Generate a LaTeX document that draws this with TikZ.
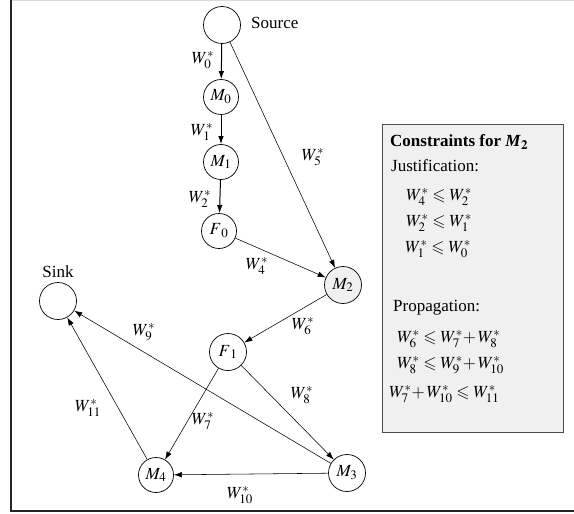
\documentclass[tikz,border=0pt]{standalone}
\usepackage{amssymb}
\usepackage{mathptmx}
\usepackage{fontspec}
\setmainfont{Liberation Serif}
\DeclareMathSizes{17}{17}{13}{10}
\usetikzlibrary{arrows.meta}
\begin{document}
\begin{tikzpicture}[x=1pt,y=-1pt,
  font=\fontsize{17}{20}\selectfont,
  vert/.style={circle,draw,line width=0.7pt,minimum size=37pt,inner sep=0pt},
  lbl/.style={inner sep=0pt},
  thinedge/.style={line width=0.55pt,-{Latex[length=8pt,width=5.5pt]}},
  thickedge/.style={line width=1pt,-{Latex[length=8pt,width=5.5pt]}},
  cline/.style={anchor=west,inner sep=0pt}]
\useasboundingbox (0,0) rectangle (574,514);
% frame
\draw[gray!30,line width=0.8pt] (11,0.5) -- (573.5,0.5);
\draw[black!85,line width=1.6pt] (11,0) -- (11,511) -- (574,511);
% nodes
\node[vert] (src) at (222,25) {};
\node[lbl,anchor=west] (srclbl) at (251,23) {Source};
\node[vert,minimum size=35pt] (m0) at (221,97) {$M_0$};
\node[vert,minimum size=35pt] (m1) at (221,162) {$M_1$};
\node[vert,minimum size=35pt] (f0) at (219,231) {$F{}_0$};
\node[vert,minimum size=37pt,fill=gray!12] (m2) at (343,285) {$M_2$};
\node[vert] (sink) at (58,301) {};
\node[lbl] (sinklbl) at (58,272) {Sink};
\node[vert] (f1) at (228,352) {$F{}_1$};
\node[vert,minimum size=35pt] (m4) at (156,475) {$M_4$};
\node[vert] (m3) at (347,473) {$M_3$};
% edges
\draw[thickedge] (src) -- (m0);
\draw[thickedge] (m0) -- (m1);
\draw[thickedge] (m1) -- (f0);
\draw[thinedge] (src) -- (m2);
\draw[thinedge] (f0) -- (m2);
\draw[thinedge] (m2) -- (f1);
\draw[thinedge] (f1) -- (m4);
\draw[thinedge] (f1) -- (m3);
\draw[thinedge] (m3) -- (m4);
\draw[thinedge] (m3) -- (sink);
\draw[thinedge] (m4) -- (sink);
% edge labels
\node[lbl] (w0) at (203,60) {$W_0^*$};
\node[lbl] (w1) at (202,132) {$W_1^*$};
\node[lbl] (w5) at (313,157) {$W_5^*$};
\node[lbl] (w2) at (200,199) {$W_2^*$};
\node[lbl] (w4) at (257,266) {$W_4^*$};
\node[lbl] (w6) at (303,326) {$W_6^*$};
\node[lbl] (w9) at (144,332) {$W_9^*$};
\node[lbl] (w8) at (302,395) {$W_8^*$};
\node[lbl] (w11) at (88,408) {$W_{11}^*$};
\node[lbl] (w7) at (203,421) {$W_7^*$};
\node[lbl] (w10) at (240,495) {$W_{10}^*$};
% constraints box
\node[draw=black!70,line width=0.8pt,fill=gray!12,minimum width=181pt,minimum height=308pt,inner sep=0pt] (box) at (472.5,278) {};
\node[cline] (c0) at (390,142) {\textbf{Constraints for \textit{M}}$_{\mathbf{2}}$};
\node[cline] (c1) at (391,166) {Justification:};
\node[cline] (c2) at (406,197) {$W_4^*\leqslant W_2^*$};
\node[cline] (c3) at (406,223) {$W_2^*\leqslant W_1^*$};
\node[cline] (c4) at (405,249) {$W_1^*\leqslant W_0^*$};
\node[cline] (c5) at (393,308) {Propagation:};
\node[cline] (c6) at (397,339) {$W_6^*\leqslant W_7^*{+}\,W_8^*$};
\node[cline] (c7) at (397,365) {$W_8^*\leqslant W_9^*{+}\,W_{10}^*$};
\node[cline] (c8) at (389,394) {$W_7^*{+}\,W_{10}^*\leqslant W_{11}^*$};
\end{tikzpicture}
\end{document}
